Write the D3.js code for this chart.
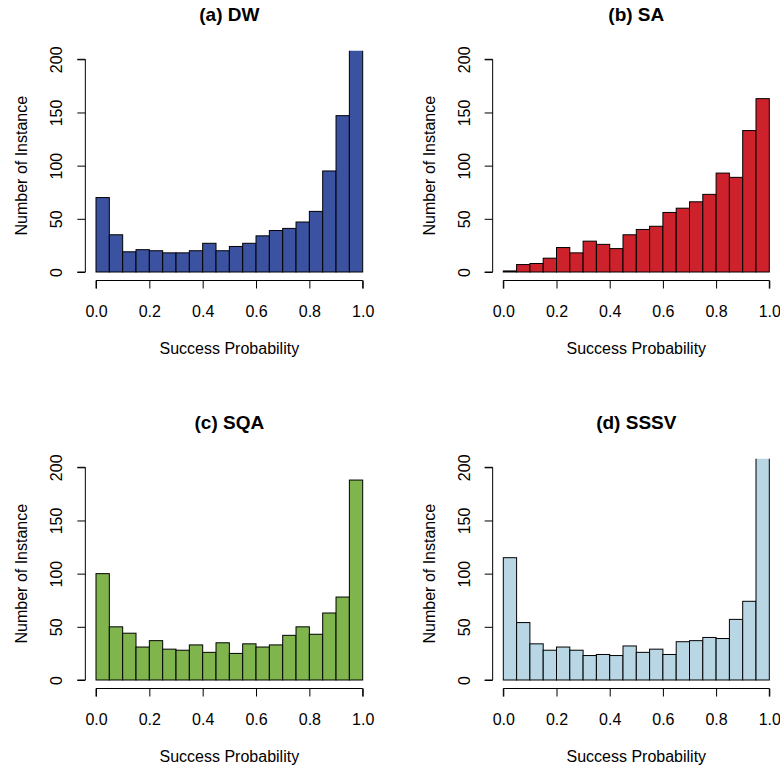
<!DOCTYPE html>
<html>
<head>
<meta charset="utf-8">
<script src="https://cdn.jsdelivr.net/npm/d3@7"></script>
<style>
  html, body { margin: 0; padding: 0; background: #ffffff; }
  svg { display: block; font-family: "Liberation Sans", Arial, Helvetica, sans-serif; }
</style>
</head>
<body>
<svg id="chart" width="780" height="769"></svg>
<script>
// ---- Data ----
const binStarts = [0.00, 0.05, 0.10, 0.15, 0.20, 0.25, 0.30, 0.35, 0.40, 0.45,
                   0.50, 0.55, 0.60, 0.65, 0.70, 0.75, 0.80, 0.85, 0.90, 0.95];
const binWidth = 0.05;
const countsDW   = [70, 35, 19, 21, 20, 18, 18, 20, 27, 20, 24, 27, 34, 39, 41, 47, 57, 95, 147, 250];
const countsSA   = [1, 7, 8, 13, 23, 18, 29, 26, 22, 35, 40, 43, 56, 60, 66, 73, 93, 89, 133, 163];
const countsSQA  = [100, 50, 44, 31, 37, 29, 28, 33, 26, 35, 25, 34, 31, 33, 42, 50, 43, 63, 78, 188];
const countsSSSV = [115, 54, 34, 28, 31, 28, 23, 24, 23, 32, 26, 29, 24, 36, 37, 40, 39, 57, 74, 240];
const panelTitles = ["(a) DW", "(b) SA", "(c) SQA", "(d) SSSV"];
const xTicks = [0, 0.2, 0.4, 0.6, 0.8, 1.0];
const yTicks = [0, 50, 100, 150, 200];
const xLabel = "Success Probability";
const yLabel = "Number of Instance";

const panels = [
  { title: panelTitles[0], counts: countsDW,   color: "#3b52a1", col: 0, row: 0 },
  { title: panelTitles[1], counts: countsSA,   color: "#cd222b", col: 1, row: 0 },
  { title: panelTitles[2], counts: countsSQA,  color: "#7fb54c", col: 0, row: 1 },
  { title: panelTitles[3], counts: countsSSSV, color: "#b8d6e4", col: 1, row: 1 }
];

// ---- Layout ----
const colX = [[96, 362.7], [503.3, 769.3]];   // pixel range for x = 0..1
const rowY = [[272, 59.3], [680, 467.3]];     // pixel range for y = 0..200
const titleBase = [21, 429];
const fontSize = 16;

const svg = d3.select("#chart");

panels.forEach((p, i) => {
  const x = d3.scaleLinear().domain([0, 1]).range(colX[p.col]);
  const y = d3.scaleLinear().domain([0, 200]).range(rowY[p.row]);
  const xLeft = x(-0.04), xRight = x(1.04);
  const yBottom = y(-8), yTop = y(208);

  const g = svg.append("g");

  // clip region (plot region)
  const clipId = "clip" + i;
  svg.append("clipPath").attr("id", clipId)
    .append("rect")
    .attr("x", xLeft).attr("y", yTop)
    .attr("width", xRight - xLeft).attr("height", yBottom - yTop);

  // bars
  g.append("g").attr("clip-path", `url(#${clipId})`)
    .selectAll("rect")
    .data(p.counts.map((c, k) => ({ x0: binStarts[k], c })))
    .join("rect")
    .attr("x", d => x(d.x0))
    .attr("width", d => x(d.x0 + binWidth) - x(d.x0))
    .attr("y", d => y(d.c))
    .attr("height", d => y(0) - y(d.c))
    .attr("fill", p.color)
    .attr("stroke", "#000")
    .attr("stroke-width", 1);

  // x axis
  const xAxis = d3.axisBottom(x).tickValues(xTicks)
    .tickFormat(d3.format(".1f")).tickSize(8).tickPadding(8);
  const gx = g.append("g").attr("transform", `translate(0,${yBottom})`).call(xAxis);
  gx.select(".domain").attr("d", `M${x(0)},8V0H${x(1)}V8`).attr("stroke", "#000");
  gx.selectAll(".tick line").attr("stroke", "#000");
  gx.selectAll(".tick text").attr("font-size", fontSize).attr("fill", "#000")
    .attr("font-family", '"Liberation Sans", Arial, sans-serif')
    .attr("dy", null).attr("y", 36.5);

  // y axis
  const yAxis = d3.axisLeft(y).tickValues(yTicks).tickSize(8);
  const gy = g.append("g").attr("transform", `translate(${xLeft},0)`).call(yAxis);
  gy.select(".domain").attr("d", `M-8,${y(0)}H0V${y(200)}H-8`).attr("stroke", "#000");
  gy.selectAll(".tick line").attr("stroke", "#000");
  gy.selectAll(".tick text")
    .attr("font-size", fontSize).attr("fill", "#000")
    .attr("font-family", '"Liberation Sans", Arial, sans-serif')
    .attr("x", null).attr("dy", null)
    .attr("text-anchor", "middle")
    .attr("transform", "translate(-23,0) rotate(-90)");

  // axis titles
  g.append("text")
    .attr("x", x(0.5)).attr("y", y(0) + 82)
    .attr("text-anchor", "middle").attr("font-size", fontSize).attr("fill", "#000")
    .text(xLabel);
  g.append("text")
    .attr("transform", `translate(${xLeft - 58},${y(100)}) rotate(-90)`)
    .attr("text-anchor", "middle").attr("font-size", fontSize).attr("fill", "#000")
    .text(yLabel);

  // title
  g.append("text")
    .attr("x", (xLeft + xRight) / 2).attr("y", titleBase[p.row])
    .attr("text-anchor", "middle").attr("font-size", 19).attr("font-weight", "bold")
    .attr("fill", "#000")
    .text(p.title);
});
</script>
</body>
</html>
